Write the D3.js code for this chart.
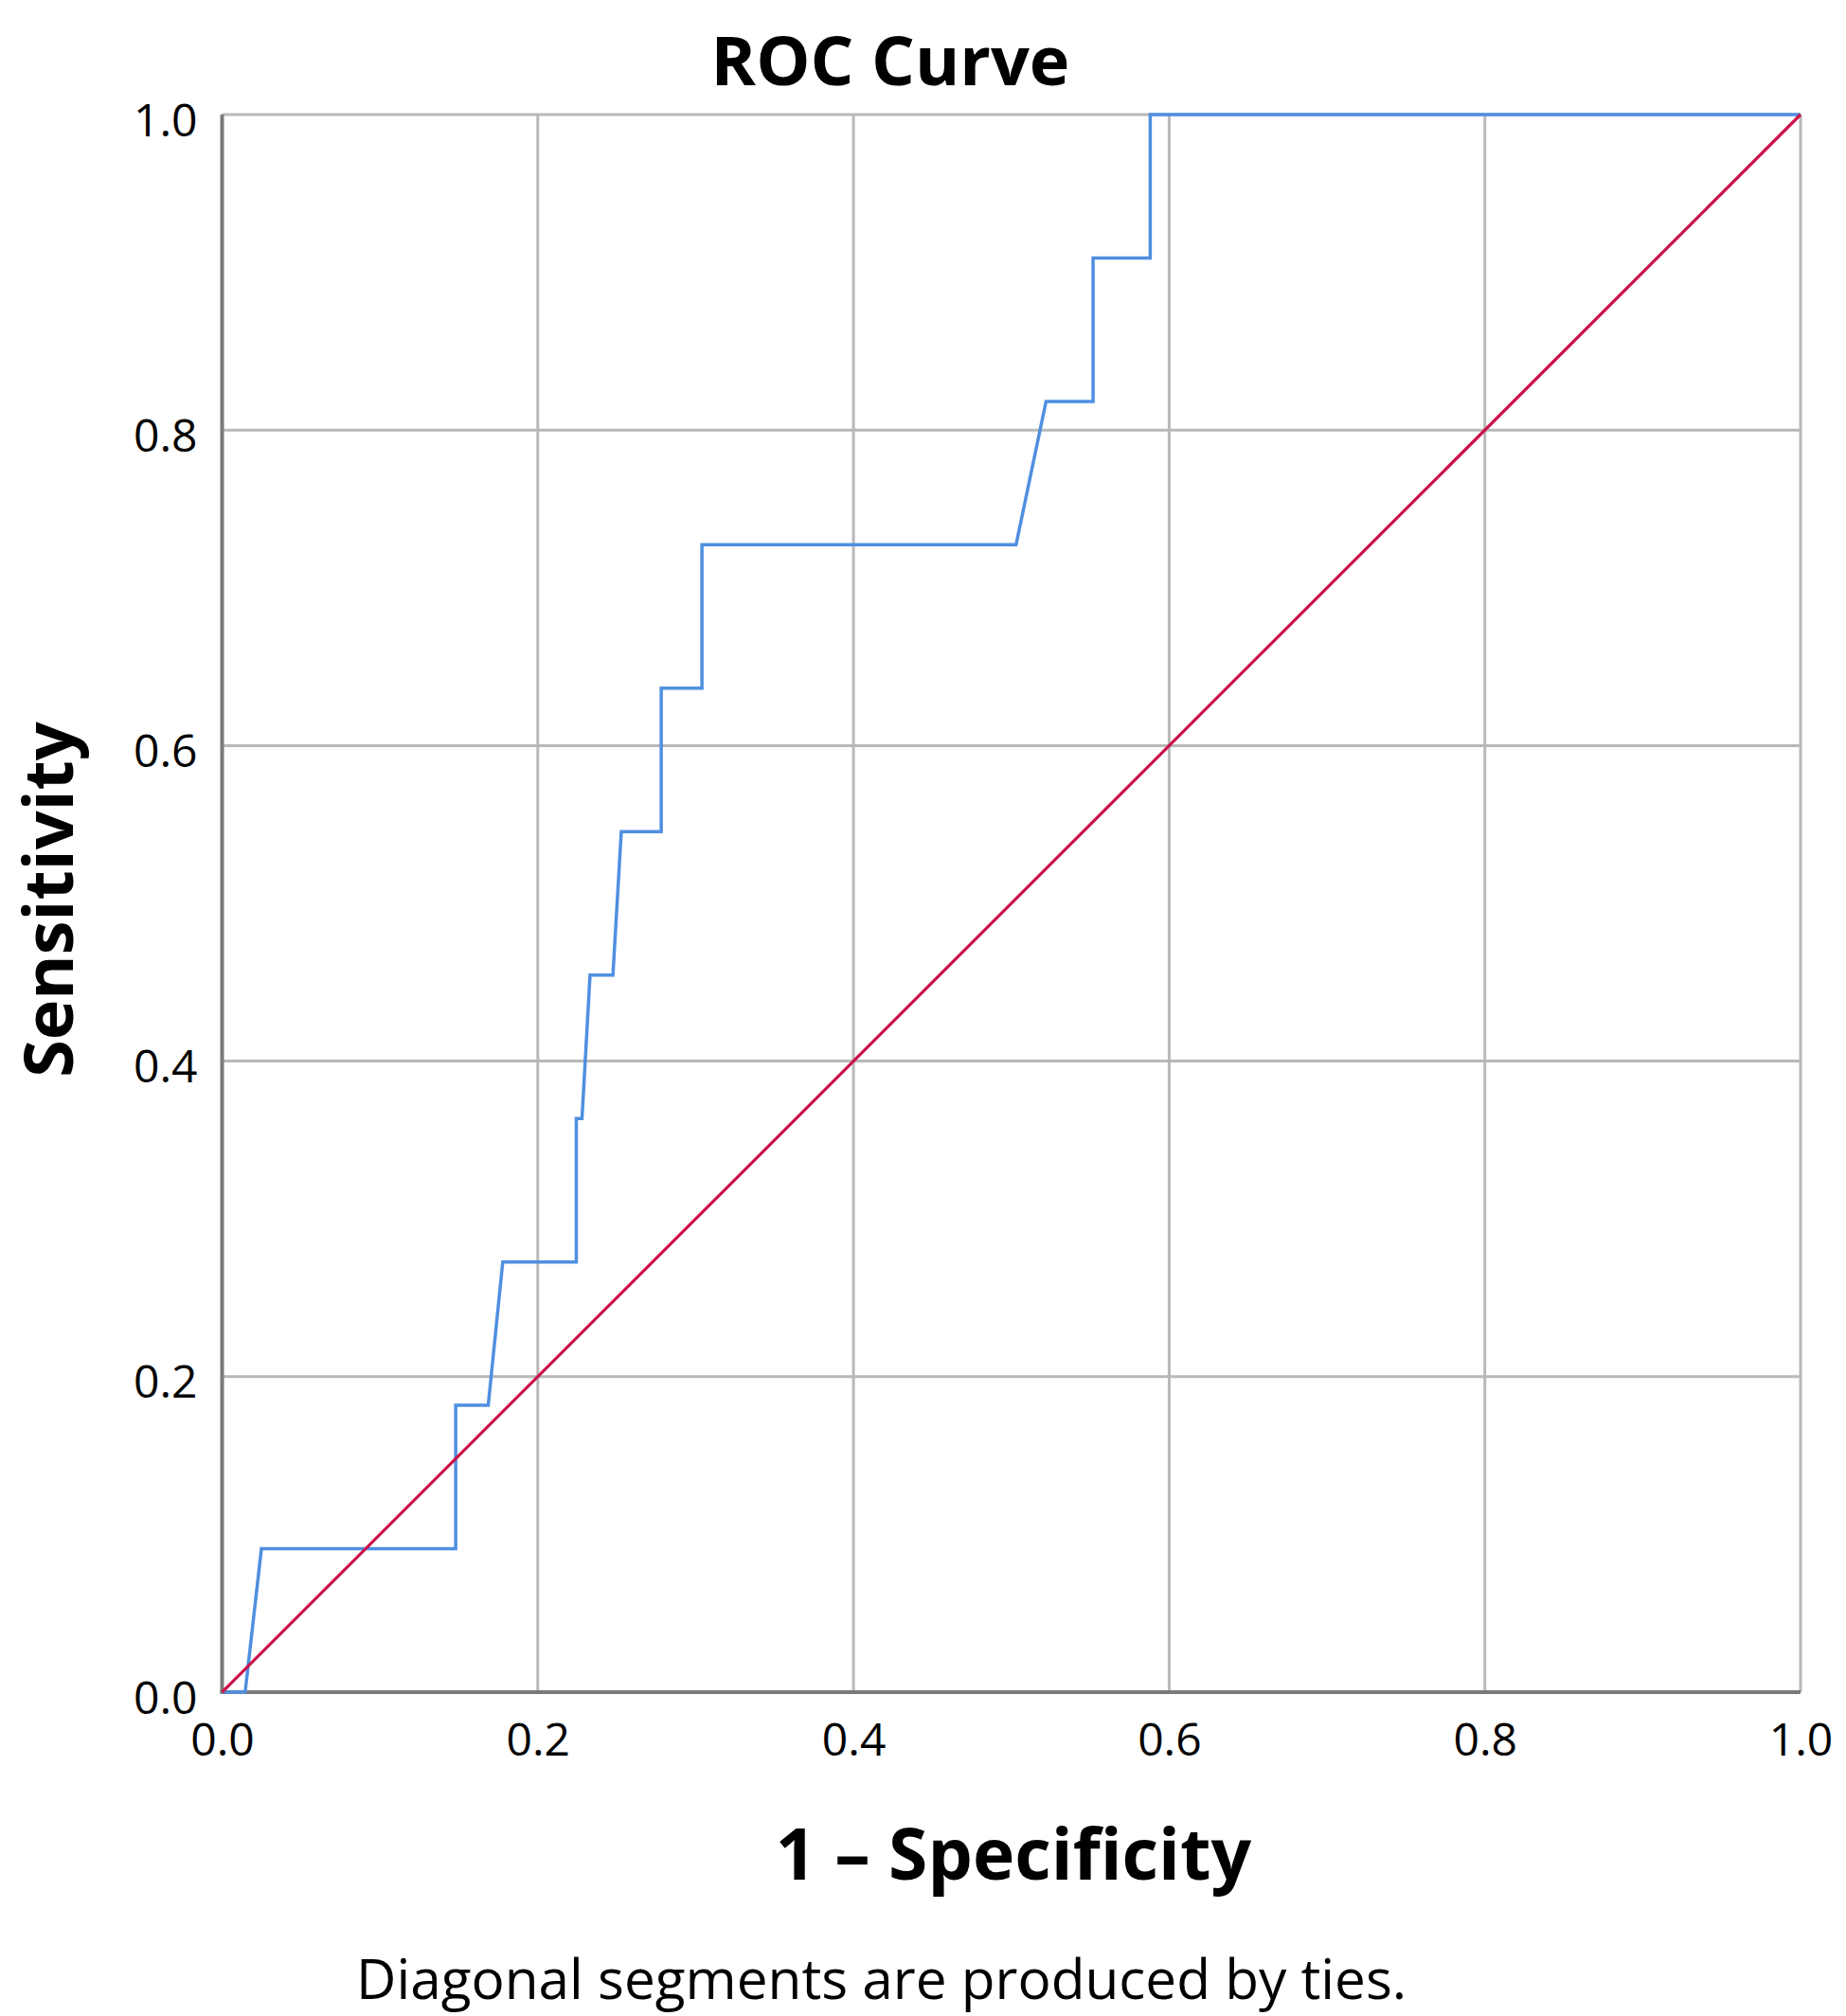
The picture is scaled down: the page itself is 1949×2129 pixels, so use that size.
<!DOCTYPE html>
<html>
<head>
<meta charset="utf-8">
<script src="https://cdn.jsdelivr.net/npm/d3@7"></script>
<style>
  html, body { margin: 0; padding: 0; background: #ffffff; }
  svg { display: block; }
  text { font-family: "Open Sans", "Noto Sans", sans-serif; fill: #000; }
</style>
</head>
<body>
<svg id="chart" width="1949" height="2129"></svg>
<script>
// ---- data ----
const fpr = [0, 0.0146, 0.0249, 0.148, 0.148, 0.1686, 0.1778, 0.2244, 0.2244, 0.228, 0.2331, 0.2476, 0.2529, 0.2782, 0.2782, 0.304, 0.304, 0.503, 0.522, 0.5518, 0.5518, 0.588, 0.588, 1];
const tpr = [0, 0, 0.0909, 0.0909, 0.1818, 0.1818, 0.2727, 0.2727, 0.3636, 0.3636, 0.4545, 0.4545, 0.5455, 0.5455, 0.6364, 0.6364, 0.7273, 0.7273, 0.8182, 0.8182, 0.9091, 0.9091, 1, 1];
const refX = [0, 1];
const refY = [0, 1];
const tickValues = [0, 0.2, 0.4, 0.6, 0.8, 1.0];
const tickLabels = ["0.0", "0.2", "0.4", "0.6", "0.8", "1.0"];
const titleText = "ROC Curve";
const xLabel = "1 \u2013 Specificity";
const yLabel = "Sensitivity";
const footnote = "Diagonal segments are produced by ties.";

// ---- layout ----
const svg = d3.select("#chart");
const plotLeft = 234.5, plotRight = 1901, plotTop = 121, plotBottom = 1787;
const x = d3.scaleLinear().domain([0, 1]).range([plotLeft, plotRight]);
const y = d3.scaleLinear().domain([0, 1]).range([plotBottom, plotTop]);

const gridColor = "#b8b8b8";
const axisColor = "#7a7a7a";

// gridlines
svg.append("g").selectAll("line").data(tickValues.slice(1)).join("line")
  .attr("x1", d => x(d)).attr("x2", d => x(d))
  .attr("y1", y(0)).attr("y2", y(1))
  .attr("stroke", gridColor).attr("stroke-width", 3);
svg.append("g").selectAll("line").data(tickValues.slice(1)).join("line")
  .attr("y1", d => y(d)).attr("y2", d => y(d))
  .attr("x1", x(0)).attr("x2", x(1))
  .attr("stroke", gridColor).attr("stroke-width", 3);

// axes (labels via d3 axes)
const fmt = d => tickLabels[tickValues.indexOf(d)];
const yAxis = svg.append("g").attr("transform", `translate(${plotLeft},0)`)
  .call(d3.axisLeft(y).tickValues(tickValues).tickFormat(fmt).tickSize(0).tickPadding(26));
yAxis.select(".domain").remove();
yAxis.selectAll("text").attr("dy", "0.46em").style("font-size", "48px").style("font-family", "'Open Sans', sans-serif").attr("fill", "#000");

const xAxis = svg.append("g").attr("transform", `translate(0,${plotBottom})`)
  .call(d3.axisBottom(x).tickValues(tickValues).tickFormat(fmt).tickSize(0).tickPadding(33));
xAxis.select(".domain").remove();
xAxis.selectAll("text").attr("dy", "0.71em").style("font-size", "48px").style("font-family", "'Open Sans', sans-serif").attr("fill", "#000");

// axis lines
svg.append("line").attr("x1", x(0)).attr("x2", x(0)).attr("y1", y(0) + 2).attr("y2", y(1))
  .attr("stroke", axisColor).attr("stroke-width", 4);
svg.append("line").attr("x1", x(0) - 2).attr("x2", x(1)).attr("y1", y(0)).attr("y2", y(0))
  .attr("stroke", axisColor).attr("stroke-width", 4);

// ROC curve
const line = d3.line().x(d => x(d[0])).y(d => y(d[1]));
svg.append("path").datum(d3.zip(fpr, tpr))
  .attr("d", line).attr("fill", "none")
  .attr("stroke", "#4f8fe0").attr("stroke-width", 3.5).attr("stroke-linejoin", "miter");

// reference diagonal
svg.append("path").datum(d3.zip(refX, refY))
  .attr("d", line).attr("fill", "none")
  .attr("stroke", "#cc1248").attr("stroke-width", 3.2);

// title and labels
svg.append("text").attr("x", 940).attr("y", 90).attr("text-anchor", "middle")
  .style("font-size", "72px").style("font-weight", "bold").text(titleText);
svg.append("text").attr("transform", "translate(77,950) rotate(-90)").attr("text-anchor", "middle")
  .style("font-size", "72px").style("font-weight", "bold").text(yLabel);
svg.append("text").attr("x", 1070).attr("y", 1985).attr("text-anchor", "middle")
  .style("font-size", "75px").style("font-weight", "bold").text(xLabel);
svg.append("text").attr("x", 376).attr("y", 2111).attr("text-anchor", "start")
  .style("font-size", "58.5px").text(footnote);
</script>
</body>
</html>
